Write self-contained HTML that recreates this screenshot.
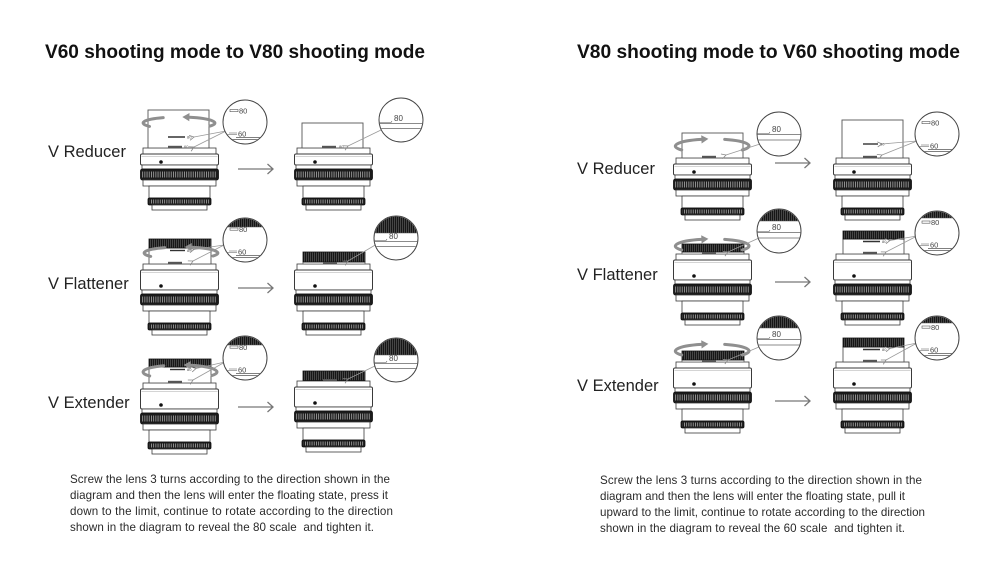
<!DOCTYPE html>
<html>
<head>
<meta charset="utf-8">
<style>
html,body{margin:0;padding:0;background:#fff;}
svg{display:block;}
</style>
</head>
<body>
<svg width="1000" height="578" viewBox="0 0 1000 578" xmlns="http://www.w3.org/2000/svg" xmlns:xlink="http://www.w3.org/1999/xlink" font-family="'Liberation Sans', sans-serif">
<rect width="1000" height="578" fill="#fff"/>
<defs>
  <pattern id="kn" width="2.2" height="10" patternUnits="userSpaceOnUse">
    <rect width="2.2" height="10" fill="#1a1a1a"/>
    <rect width="0.9" height="10" fill="#9a9a9a"/>
  </pattern>
  <pattern id="knd" width="2" height="10" patternUnits="userSpaceOnUse">
    <rect width="2" height="10" fill="#161616"/>
    <rect width="0.7" height="10" fill="#5a5a5a"/>
  </pattern>
  <marker id="ar" markerWidth="7" markerHeight="7" refX="0.5" refY="3" orient="auto-start-reverse" markerUnits="userSpaceOnUse">
    <path d="M5,0.5 L0.5,3 L5,5.5" fill="none" stroke="#888" stroke-width="0.8"/>
  </marker>
  <clipPath id="cc"><circle cx="0" cy="0" r="21.5"/></clipPath>

  <!-- Reducer body -->
  <g id="bR" stroke="#3a3a3a" stroke-width="0.8">
    <rect x="3" y="0" width="73" height="6" fill="#fff"/>
    <rect x="0.5" y="6" width="78" height="11" rx="1.5" fill="#fff" stroke-width="1"/>
    <line x1="1.5" y1="8.5" x2="77.5" y2="8.5" stroke="#aaa" stroke-width="0.5"/>
    <circle cx="21" cy="14" r="1.8" fill="#111" stroke="none"/>
    <rect x="2" y="17" width="75" height="4" fill="#fff"/>
    <rect x="0.5" y="21" width="78" height="11" rx="2" fill="#1b1b1b" stroke="#111"/>
    <rect x="2" y="23.5" width="75" height="6" fill="url(#kn)" stroke="none"/>
    <rect x="3" y="32" width="73" height="6" fill="#fff"/>
    <rect x="9" y="38" width="61" height="12" fill="#fff"/>
    <rect x="8" y="50" width="63" height="7" rx="1.5" fill="#1b1b1b" stroke="#111"/>
    <rect x="9.5" y="51.5" width="60" height="4" fill="url(#kn)" stroke="none"/>
    <rect x="12" y="57" width="55" height="5" fill="#fff"/>
  </g>
  <!-- Flattener / Extender body -->
  <g id="bF" stroke="#3a3a3a" stroke-width="0.8">
    <rect x="3" y="0" width="73" height="6" fill="#fff"/>
    <rect x="0.5" y="6" width="78" height="20" rx="1.5" fill="#fff" stroke-width="1"/>
    <line x1="1.5" y1="8.5" x2="77.5" y2="8.5" stroke="#aaa" stroke-width="0.5"/>
    <circle cx="21" cy="22" r="1.8" fill="#111" stroke="none"/>
    <rect x="2" y="26" width="75" height="4" fill="#fff"/>
    <rect x="0.5" y="30" width="78" height="11" rx="2" fill="#1b1b1b" stroke="#111"/>
    <rect x="2" y="32.5" width="75" height="6" fill="url(#kn)" stroke="none"/>
    <rect x="3" y="41" width="73" height="6" fill="#fff"/>
    <rect x="9" y="47" width="61" height="12" fill="#fff"/>
    <rect x="8" y="59" width="63" height="7" rx="1.5" fill="#1b1b1b" stroke="#111"/>
    <rect x="9.5" y="60.5" width="60" height="4" fill="url(#kn)" stroke="none"/>
    <rect x="12" y="66" width="55" height="5" fill="#fff"/>
  </g>
</defs>

<!-- Titles -->
<text x="45" y="58" font-size="19" font-weight="bold" fill="#111" textLength="380" lengthAdjust="spacingAndGlyphs">V60 shooting mode to V80 shooting mode</text>
<text x="577" y="58" font-size="19" font-weight="bold" fill="#111" textLength="383" lengthAdjust="spacingAndGlyphs">V80 shooting mode to V60 shooting mode</text>

<!-- Labels -->
<g font-size="16.5" fill="#222">
  <text x="48" y="157">V Reducer</text>
  <text x="48" y="289">V Flattener</text>
  <text x="48" y="408">V Extender</text>
  <text x="577" y="174">V Reducer</text>
  <text x="577" y="280">V Flattener</text>
  <text x="577" y="391">V Extender</text>
</g>

<!-- ============ LEFT COLUMN ============ -->
<!-- 1 Reducer before -->
<use href="#bR" xlink:href="#bR" x="140" y="148"/>
<rect x="148" y="110" width="61" height="38" fill="#fff" stroke="#555" stroke-width="0.9"/>
<line x1="168" y1="137" x2="185" y2="137" stroke="#333" stroke-width="1.4"/>
<text x="187" y="138.5" font-size="4" fill="#555">80</text>
<rect x="168" y="145.8" width="14" height="2.2" fill="#555"/>
<text x="184" y="147.8" font-size="4" fill="#555">60</text>
<g stroke="#8f8f8f" stroke-width="3" fill="none" stroke-linecap="round">
  <path d="M163.2,117.6 A36,6 0 0 0 149.5,126.4"/>
  <path d="M210.2,126 A36,6 0 0 0 189.5,117.3"/>
</g>
<path d="M182.3,117 L189.5,113 L189.3,121.3 Z" fill="#8f8f8f"/>
<g stroke="#999" stroke-width="0.8" fill="none">
  <path d="M226,131 L194,137" marker-end="url(#ar)"/>
  <path d="M226,131 L194,147" marker-end="url(#ar)"/>
</g>
<g transform="translate(245,122)">
  <circle r="22" fill="#fff"/>
  <g clip-path="url(#cc)" fill="#444" stroke="#555" stroke-width="0.6">
    <rect x="-15" y="-12.5" width="8" height="2.2" fill="none"/>
    <text x="-6" y="-8.5" font-size="7.5" stroke="none">80</text>
    <path d="M-22,12.5 H-8 M-16,11 H-8" fill="none"/>
    <text x="-7" y="14.5" font-size="7.5" stroke="none">60</text>
    <path d="M-9,15.5 H22 M-22,17.5 H22" fill="none" stroke-width="0.7"/>
  </g>
  <circle r="22" fill="none" stroke="#444" stroke-width="1"/>
</g>
<path d="M238,169 H273 M267.5,164 L273,169 L267.5,174" fill="none" stroke="#777" stroke-width="1.3"/>

<!-- 2 Reducer after -->
<use href="#bR" xlink:href="#bR" x="294" y="148"/>
<rect x="302" y="123" width="61" height="25" fill="#fff" stroke="#555" stroke-width="0.9"/>
<rect x="322" y="145.8" width="14" height="2.2" fill="#555"/>
<text x="339" y="147.8" font-size="4" fill="#555">80</text>
<path d="M381,130 L348,146" stroke="#999" stroke-width="0.8" fill="none" marker-end="url(#ar)"/>
<g transform="translate(401,120)">
  <circle r="22" fill="#fff"/>
  <g clip-path="url(#cc)" fill="#444" stroke="#555" stroke-width="0.6">
    <text x="-7" y="1" font-size="8" stroke="none">80</text>
    <path d="M-22,2.5 H-10 L-9,1" fill="none"/>
    <path d="M-22,3.5 H22 M-22,8.5 H22" fill="none" stroke="#666" stroke-width="0.7"/>
  </g>
  <circle r="22" fill="none" stroke="#444" stroke-width="1"/>
</g>

<!-- 3 Flattener before -->
<use href="#bF" xlink:href="#bF" x="140" y="264"/>
<rect x="149" y="248" width="62" height="16" fill="#fff" stroke="#555" stroke-width="0.9"/>
<rect x="149" y="239" width="62" height="9" fill="url(#knd)" stroke="#111" stroke-width="0.8"/>
<line x1="170" y1="250.5" x2="185" y2="250.5" stroke="#333" stroke-width="1.4"/>
<text x="187" y="252" font-size="4" fill="#555">80</text>
<rect x="168" y="261.8" width="14" height="2.2" fill="#555"/>
<g stroke="#8f8f8f" stroke-width="3" fill="none" stroke-linecap="round">
  <path d="M164.8,247.6 A37,6 0 0 0 150.7,256.4"/>
  <path d="M213,256 A37,6 0 0 0 191.8,247.3"/>
</g>
<path d="M184.6,247 L191.8,243 L191.6,251.3 Z" fill="#8f8f8f"/>
<g stroke="#999" stroke-width="0.8" fill="none">
  <path d="M224,245 L194,249.5" marker-end="url(#ar)"/>
  <path d="M224,245 L193,261" marker-end="url(#ar)"/>
</g>
<g transform="translate(245,240)">
  <circle r="22" fill="#fff"/>
  <g clip-path="url(#cc)" fill="#444" stroke="#555" stroke-width="0.6">
    <rect x="-22" y="-22" width="44" height="9" fill="url(#knd)" stroke="none"/>
    <path d="M-22,-13 H22" fill="none"/>
    <rect x="-15" y="-12" width="8" height="2.2" fill="none"/>
    <text x="-6" y="-8" font-size="7.5" stroke="none">80</text>
    <path d="M-22,12.5 H-8 M-16,11 H-8" fill="none"/>
    <text x="-7" y="14.5" font-size="7.5" stroke="none">60</text>
    <path d="M-9,15.5 H22 M-22,17.5 H22" fill="none" stroke-width="0.7"/>
  </g>
  <circle r="22" fill="none" stroke="#444" stroke-width="1"/>
</g>
<path d="M238,288 H273 M267.5,283 L273,288 L267.5,293" fill="none" stroke="#777" stroke-width="1.3"/>

<!-- 4 Flattener after -->
<use href="#bF" xlink:href="#bF" x="294" y="264"/>
<rect x="303" y="262" width="62" height="2" fill="#fff" stroke="#555" stroke-width="0.7"/>
<rect x="303" y="252" width="62" height="10" fill="url(#knd)" stroke="#111" stroke-width="0.8"/>
<rect x="323" y="262" width="14" height="2" fill="#555"/>
<path d="M377,244 L348,261" stroke="#999" stroke-width="0.8" fill="none" marker-end="url(#ar)"/>
<g transform="translate(396,238)">
  <circle r="22" fill="#fff"/>
  <g clip-path="url(#cc)" fill="#444" stroke="#555" stroke-width="0.6">
    <rect x="-22" y="-22" width="44" height="17" fill="url(#knd)" stroke="none"/>
    <path d="M-22,-5 H22" fill="none"/>
    <text x="-7" y="1" font-size="8" stroke="none">80</text>
    <path d="M-22,2.5 H-10 L-9,1" fill="none"/>
    <path d="M-22,3.5 H22 M-22,8.5 H22" fill="none" stroke="#666" stroke-width="0.7"/>
  </g>
  <circle r="22" fill="none" stroke="#444" stroke-width="1"/>
</g>

<!-- 5 Extender before -->
<use href="#bF" xlink:href="#bF" x="140" y="383"/>
<rect x="149" y="367" width="62" height="16" fill="#fff" stroke="#555" stroke-width="0.9"/>
<rect x="149" y="359" width="62" height="8" fill="url(#knd)" stroke="#111" stroke-width="0.8"/>
<line x1="170" y1="369.5" x2="185" y2="369.5" stroke="#333" stroke-width="1.4"/>
<text x="187" y="371" font-size="4" fill="#555">80</text>
<rect x="168" y="380.8" width="14" height="2.2" fill="#555"/>
<g stroke="#8f8f8f" stroke-width="3" fill="none" stroke-linecap="round">
  <path d="M163.8,365.7 A37,7 0 0 0 149.7,376"/>
  <path d="M212,375.5 A37,7 0 0 0 190.8,365.3"/>
</g>
<path d="M183.6,365 L190.8,361 L190.6,369.3 Z" fill="#8f8f8f"/>
<g stroke="#999" stroke-width="0.8" fill="none">
  <path d="M225,362 L196,368.5" marker-end="url(#ar)"/>
  <path d="M225,362 L193,380" marker-end="url(#ar)"/>
</g>
<g transform="translate(245,358)">
  <circle r="22" fill="#fff"/>
  <g clip-path="url(#cc)" fill="#444" stroke="#555" stroke-width="0.6">
    <rect x="-22" y="-22" width="44" height="9" fill="url(#knd)" stroke="none"/>
    <path d="M-22,-13 H22" fill="none"/>
    <rect x="-15" y="-12" width="8" height="2.2" fill="none"/>
    <text x="-6" y="-8" font-size="7.5" stroke="none">80</text>
    <path d="M-22,12.5 H-8 M-16,11 H-8" fill="none"/>
    <text x="-7" y="14.5" font-size="7.5" stroke="none">60</text>
    <path d="M-9,15.5 H22 M-22,17.5 H22" fill="none" stroke-width="0.7"/>
  </g>
  <circle r="22" fill="none" stroke="#444" stroke-width="1"/>
</g>
<path d="M238,407 H273 M267.5,402 L273,407 L267.5,412" fill="none" stroke="#777" stroke-width="1.3"/>

<!-- 6 Extender after -->
<use href="#bF" xlink:href="#bF" x="294" y="381"/>
<rect x="303" y="371" width="62" height="9.5" fill="url(#knd)" stroke="#111" stroke-width="0.8"/>
<rect x="323" y="379" width="14" height="2" fill="#555"/>
<path d="M377,365 L348,379" stroke="#999" stroke-width="0.8" fill="none" marker-end="url(#ar)"/>
<g transform="translate(396,360)">
  <circle r="22" fill="#fff"/>
  <g clip-path="url(#cc)" fill="#444" stroke="#555" stroke-width="0.6">
    <rect x="-22" y="-22" width="44" height="17" fill="url(#knd)" stroke="none"/>
    <path d="M-22,-5 H22" fill="none"/>
    <text x="-7" y="1" font-size="8" stroke="none">80</text>
    <path d="M-22,2.5 H-10 L-9,1" fill="none"/>
    <path d="M-22,3.5 H22 M-22,8.5 H22" fill="none" stroke="#666" stroke-width="0.7"/>
  </g>
  <circle r="22" fill="none" stroke="#444" stroke-width="1"/>
</g>

<!-- ============ RIGHT COLUMN ============ -->
<!-- 7 Reducer before -->
<use href="#bR" xlink:href="#bR" x="673" y="158"/>
<rect x="682" y="133" width="61" height="25" fill="#fff" stroke="#555" stroke-width="0.9"/>
<rect x="702" y="155.8" width="14" height="2.2" fill="#555"/>
<g stroke="#8f8f8f" stroke-width="3" fill="none" stroke-linecap="round">
  <path d="M681.7,150 A37,7 0 0 1 701.2,139.4"/>
  <path d="M724.7,139.4 A37,7 0 0 1 742.3,150"/>
</g>
<path d="M708.4,138.9 L701.2,135.3 L701.6,143.5 Z" fill="#8f8f8f"/>
<path d="M760,144 L726,155" stroke="#999" stroke-width="0.8" fill="none" marker-end="url(#ar)"/>
<g transform="translate(779,134)">
  <circle r="22" fill="#fff"/>
  <g clip-path="url(#cc)" fill="#444" stroke="#555" stroke-width="0.6">
    <text x="-7" y="-2" font-size="8" stroke="none">80</text>
    <path d="M-22,-0.5 H-10 L-9,-2" fill="none"/>
    <path d="M-22,0.5 H22 M-22,6 H22" fill="none" stroke="#666" stroke-width="0.7"/>
  </g>
  <circle r="22" fill="none" stroke="#444" stroke-width="1"/>
</g>
<path d="M775,163 H810 M804.5,158 L810,163 L804.5,168" fill="none" stroke="#777" stroke-width="1.3"/>

<!-- 8 Reducer after -->
<use href="#bR" xlink:href="#bR" x="833" y="158"/>
<rect x="842" y="120" width="61" height="38" fill="#fff" stroke="#555" stroke-width="0.9"/>
<line x1="863" y1="144" x2="878" y2="144" stroke="#333" stroke-width="1.4"/>
<text x="880" y="145.5" font-size="4" fill="#555">80</text>
<rect x="863" y="155.8" width="14" height="2.2" fill="#555"/>
<g stroke="#999" stroke-width="0.8" fill="none">
  <path d="M917,141 L882,144" marker-end="url(#ar)"/>
  <path d="M917,141 L882,155" marker-end="url(#ar)"/>
</g>
<g transform="translate(937,134)">
  <circle r="22" fill="#fff"/>
  <g clip-path="url(#cc)" fill="#444" stroke="#555" stroke-width="0.6">
    <rect x="-15" y="-12.5" width="8" height="2.2" fill="none"/>
    <text x="-6" y="-8.5" font-size="7.5" stroke="none">80</text>
    <path d="M-22,12.5 H-8 M-16,11 H-8" fill="none"/>
    <text x="-7" y="14.5" font-size="7.5" stroke="none">60</text>
    <path d="M-9,15.5 H22 M-22,17.5 H22" fill="none" stroke-width="0.7"/>
  </g>
  <circle r="22" fill="none" stroke="#444" stroke-width="1"/>
</g>

<!-- 9 Flattener before -->
<use href="#bF" xlink:href="#bF" x="673" y="254"/>
<rect x="682" y="252" width="62" height="2" fill="#fff" stroke="#555" stroke-width="0.7"/>
<rect x="682" y="244" width="62" height="8" fill="url(#knd)" stroke="#111" stroke-width="0.8"/>
<rect x="702" y="252" width="14" height="2" fill="#555"/>
<g stroke="#8f8f8f" stroke-width="3" fill="none" stroke-linecap="round">
  <path d="M681.7,250 A37,7 0 0 1 701.2,239.4"/>
  <path d="M724.7,239.4 A37,7 0 0 1 742.3,250"/>
</g>
<path d="M708.4,238.9 L701.2,235.3 L701.6,243.5 Z" fill="#8f8f8f"/>
<path d="M759,238 L728,252" stroke="#999" stroke-width="0.8" fill="none" marker-end="url(#ar)"/>
<g transform="translate(779,231)">
  <circle r="22" fill="#fff"/>
  <g clip-path="url(#cc)" fill="#444" stroke="#555" stroke-width="0.6">
    <rect x="-22" y="-22" width="44" height="12" fill="url(#knd)" stroke="none"/>
    <path d="M-22,-10 H22" fill="none"/>
    <text x="-7" y="-1" font-size="8" stroke="none">80</text>
    <path d="M-22,0.5 H-10 L-9,-1" fill="none"/>
    <path d="M-22,1.5 H22 M-22,7 H22" fill="none" stroke="#666" stroke-width="0.7"/>
  </g>
  <circle r="22" fill="none" stroke="#444" stroke-width="1"/>
</g>
<path d="M775,282 H810 M804.5,277 L810,282 L804.5,287" fill="none" stroke="#777" stroke-width="1.3"/>

<!-- 10 Flattener after -->
<use href="#bF" xlink:href="#bF" x="833" y="254"/>
<rect x="843" y="239" width="61" height="15" fill="#fff" stroke="#555" stroke-width="0.9"/>
<rect x="843" y="231" width="61" height="8" fill="url(#knd)" stroke="#111" stroke-width="0.8"/>
<line x1="863" y1="241.5" x2="880" y2="241.5" stroke="#333" stroke-width="1.4"/>
<text x="882" y="243" font-size="4" fill="#555">80</text>
<rect x="863" y="251.8" width="14" height="2.2" fill="#555"/>
<g stroke="#999" stroke-width="0.8" fill="none">
  <path d="M917,236 L890,240.5" marker-end="url(#ar)"/>
  <path d="M917,236 L886,252" marker-end="url(#ar)"/>
</g>
<g transform="translate(937,233)">
  <circle r="22" fill="#fff"/>
  <g clip-path="url(#cc)" fill="#444" stroke="#555" stroke-width="0.6">
    <rect x="-22" y="-22" width="44" height="7" fill="url(#knd)" stroke="none"/>
    <path d="M-22,-15 H22" fill="none"/>
    <rect x="-15" y="-12" width="8" height="2.2" fill="none"/>
    <text x="-6" y="-8" font-size="7.5" stroke="none">80</text>
    <path d="M-22,12.5 H-8 M-16,11 H-8" fill="none"/>
    <text x="-7" y="14.5" font-size="7.5" stroke="none">60</text>
    <path d="M-9,15.5 H22 M-22,17.5 H22" fill="none" stroke-width="0.7"/>
  </g>
  <circle r="22" fill="none" stroke="#444" stroke-width="1"/>
</g>

<!-- 11 Extender before -->
<use href="#bF" xlink:href="#bF" x="673" y="362"/>
<rect x="682" y="360" width="62" height="2" fill="#fff" stroke="#555" stroke-width="0.7"/>
<rect x="682" y="351" width="62" height="9" fill="url(#knd)" stroke="#111" stroke-width="0.8"/>
<rect x="702" y="360" width="14" height="2" fill="#555"/>
<g stroke="#8f8f8f" stroke-width="3" fill="none" stroke-linecap="round">
  <path d="M681.7,355 A37,7 0 0 1 701.2,344.4"/>
  <path d="M724.7,344.4 A37,7 0 0 1 742.3,355"/>
</g>
<path d="M708.4,343.9 L701.2,340.3 L701.6,348.5 Z" fill="#8f8f8f"/>
<path d="M759,347 L728,360" stroke="#999" stroke-width="0.8" fill="none" marker-end="url(#ar)"/>
<g transform="translate(779,338)">
  <circle r="22" fill="#fff"/>
  <g clip-path="url(#cc)" fill="#444" stroke="#555" stroke-width="0.6">
    <rect x="-22" y="-22" width="44" height="12" fill="url(#knd)" stroke="none"/>
    <path d="M-22,-10 H22" fill="none"/>
    <text x="-7" y="-1" font-size="8" stroke="none">80</text>
    <path d="M-22,0.5 H-10 L-9,-1" fill="none"/>
    <path d="M-22,1.5 H22 M-22,7 H22" fill="none" stroke="#666" stroke-width="0.7"/>
  </g>
  <circle r="22" fill="none" stroke="#444" stroke-width="1"/>
</g>
<path d="M775,401 H810 M804.5,396 L810,401 L804.5,406" fill="none" stroke="#777" stroke-width="1.3"/>

<!-- 12 Extender after -->
<use href="#bF" xlink:href="#bF" x="833" y="362"/>
<rect x="843" y="347" width="61" height="15" fill="#fff" stroke="#555" stroke-width="0.9"/>
<rect x="843" y="338" width="61" height="9" fill="url(#knd)" stroke="#111" stroke-width="0.8"/>
<line x1="863" y1="349.5" x2="880" y2="349.5" stroke="#333" stroke-width="1.4"/>
<text x="882" y="351" font-size="4" fill="#555">80</text>
<rect x="863" y="359.8" width="14" height="2.2" fill="#555"/>
<g stroke="#999" stroke-width="0.8" fill="none">
  <path d="M917,343 L890,348.5" marker-end="url(#ar)"/>
  <path d="M917,343 L886,360" marker-end="url(#ar)"/>
</g>
<g transform="translate(937,338)">
  <circle r="22" fill="#fff"/>
  <g clip-path="url(#cc)" fill="#444" stroke="#555" stroke-width="0.6">
    <rect x="-22" y="-22" width="44" height="7" fill="url(#knd)" stroke="none"/>
    <path d="M-22,-15 H22" fill="none"/>
    <rect x="-15" y="-12" width="8" height="2.2" fill="none"/>
    <text x="-6" y="-8" font-size="7.5" stroke="none">80</text>
    <path d="M-22,12.5 H-8 M-16,11 H-8" fill="none"/>
    <text x="-7" y="14.5" font-size="7.5" stroke="none">60</text>
    <path d="M-9,15.5 H22 M-22,17.5 H22" fill="none" stroke-width="0.7"/>
  </g>
  <circle r="22" fill="none" stroke="#444" stroke-width="1"/>
</g>

<!-- Body text -->
<g font-size="11.6" fill="#2a2a2a">
  <text x="70" y="483" textLength="320" lengthAdjust="spacing">Screw the lens 3 turns according to the direction shown in the</text>
  <text x="70" y="499" textLength="318" lengthAdjust="spacing">diagram and then the lens will enter the floating state, press it</text>
  <text x="70" y="515" textLength="323" lengthAdjust="spacing">down to the limit, continue to rotate according to the direction</text>
  <text x="70" y="531" xml:space="preserve" textLength="304" lengthAdjust="spacing">shown in the diagram to reveal the 80 scale  and tighten it.</text>

  <text x="600" y="484" textLength="322" lengthAdjust="spacing">Screw the lens 3 turns according to the direction shown in the</text>
  <text x="600" y="500" textLength="305" lengthAdjust="spacing">diagram and then the lens will enter the floating state, pull it</text>
  <text x="600" y="516" textLength="325" lengthAdjust="spacing">upward to the limit, continue to rotate according to the direction</text>
  <text x="600" y="532" xml:space="preserve" textLength="305" lengthAdjust="spacing">shown in the diagram to reveal the 60 scale  and tighten it.</text>
</g>
</svg>
</body>
</html>
